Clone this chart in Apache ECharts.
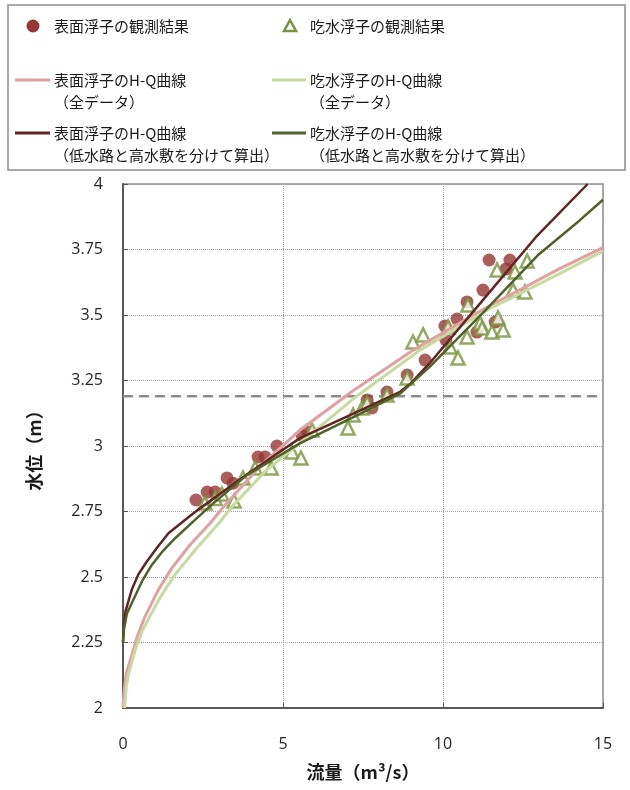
<!DOCTYPE html>
<html>
<head>
<meta charset="utf-8">
<script src="https://cdn.jsdelivr.net/npm/echarts@6/dist/echarts.min.js"></script>
<style>
  html, body { margin: 0; padding: 0; background: #fff; }
  #chart { width: 630px; height: 790px; }
</style>
</head>
<body>
<div id="chart"></div>
<script>
// Observed points: [discharge (m3/s), stage (m)]
const surfaceFloatObs = [
  [2.28, 2.794], [2.63, 2.824], [2.88, 2.824], [3.25, 2.878], [3.44, 2.858],
  [4.22, 2.958], [4.44, 2.958], [4.81, 3.0], [5.6, 3.04], [5.78, 3.053],
  [7.63, 3.176], [7.78, 3.145], [8.25, 3.206], [8.88, 3.271], [9.44, 3.328],
  [10.06, 3.458], [10.09, 3.405], [10.44, 3.485], [10.75, 3.55], [11.06, 3.435],
  [11.25, 3.595], [11.44, 3.71], [11.63, 3.473], [11.97, 3.676], [12.09, 3.71]
];
const rodFloatObs = [
  [2.56, 2.782], [2.88, 2.80], [3.09, 2.817], [3.47, 2.79], [3.75, 2.878],
  [4.13, 2.916], [4.63, 2.916], [5.28, 2.977], [5.56, 2.954], [5.91, 3.061],
  [7.03, 3.069], [7.19, 3.118], [7.47, 3.145], [7.63, 3.164], [8.25, 3.195],
  [8.88, 3.26], [9.06, 3.397], [9.38, 3.424], [10.16, 3.454], [10.22, 3.378],
  [10.47, 3.336], [10.75, 3.416], [10.78, 3.538], [11.16, 3.469], [11.22, 3.45],
  [11.53, 3.435], [11.72, 3.489], [11.88, 3.443], [11.69, 3.672], [12.25, 3.664],
  [12.63, 3.706], [12.19, 3.595], [12.56, 3.588]
];

// H-Q rating curves
const surfaceCurveAll = [
  [0, 2.0], [0.03, 2.06], [0.1, 2.13], [0.27, 2.2], [0.45, 2.275], [0.69, 2.35],
  [1.1, 2.45], [1.52, 2.533], [2.09, 2.622], [2.72, 2.705], [3.19, 2.775],
  [4.3, 2.925], [5.53, 3.061], [7.2, 3.212], [9.07, 3.366], [11.3, 3.525],
  [13.66, 3.678], [15, 3.757]
];
const rodCurveAll = [
  [0.05, 2.0], [0.1, 2.08], [0.17, 2.13], [0.38, 2.22], [0.6, 2.295], [0.84, 2.35],
  [1.2, 2.43], [1.63, 2.51], [2.3, 2.61], [3.03, 2.71], [3.4, 2.768], [4.5, 2.91],
  [5.84, 3.042], [7.3, 3.19], [9.28, 3.366], [11.4, 3.52], [13.66, 3.659], [15, 3.744]
];
const surfaceCurveSplit = [
  [0, 2.25], [0.02, 2.31], [0.08, 2.37], [0.27, 2.45], [0.48, 2.51], [0.74, 2.558],
  [1.05, 2.61], [1.42, 2.667], [2.2, 2.743], [2.62, 2.781], [4.0, 2.903],
  [5.53, 3.03], [7.2, 3.124], [8.66, 3.207], [9.0, 3.24], [9.59, 3.317],
  [11.2, 3.55], [12.9, 3.797], [14.52, 4.0]
];
const rodCurveSplit = [
  [0, 2.25], [0.03, 2.3], [0.12, 2.36], [0.32, 2.412], [0.6, 2.485], [0.9, 2.546],
  [1.25, 2.6], [1.63, 2.648], [2.3, 2.724], [2.82, 2.781], [3.87, 2.889],
  [5.53, 3.01], [7.2, 3.11], [8.66, 3.2], [9.59, 3.303], [11.3, 3.515],
  [12.99, 3.731], [14.26, 3.86], [15, 3.94]
];

// Stage separating the low-water channel from the flood plain
const boundaryStage = 3.19;

// Axis ranges
const xRange = [0, 15, 5];
const yRange = [2, 4, 0.25];

// Series names (legend text, one entry per line)
const names = {
  surfaceObs: ['表面浮子の観測結果'],
  rodObs: ['吃水浮子の観測結果'],
  surfaceAll: ['表面浮子のH-Q曲線', '（全データ）'],
  rodAll: ['吃水浮子のH-Q曲線', '（全データ）'],
  surfaceSplit: ['表面浮子のH-Q曲線', '（低水路と高水敷を分けて算出）'],
  rodSplit: ['吃水浮子のH-Q曲線', '（低水路と高水敷を分けて算出）']
};
const axisNames = { x: '流量（m³/s）', y: '水位（m）' };

const colors = {
  surfaceObs: '#953735',
  rodObs: '#77933C',
  surfaceAll: '#E2A0A0',
  rodAll: '#C6DBA0',
  surfaceSplit: '#632523',
  rodSplit: '#4F6228'
};

const jp = "'Noto Sans CJK JP', 'Noto Sans', sans-serif";
const num = "'Open Sans', 'Noto Sans', sans-serif";

function curve(key, data, width) {
  return {
    name: names[key].join(''),
    type: 'line',
    data: data,
    symbol: 'none',
    smooth: false,
    lineStyle: { color: colors[key], width: width, join: 'round' },
    z: 4
  };
}

// Legend drawn as graphic elements in two columns
const legendRows = [
  { left: 'surfaceObs', right: 'rodObs', y: 26, kind: 'marker' },
  { left: 'surfaceAll', right: 'rodAll', y: 80, kind: 'line' },
  { left: 'surfaceSplit', right: 'rodSplit', y: 133, kind: 'line' }
];
const legendCols = { left: { mark: 33, line: [15, 50], text: 54 }, right: { mark: 290, line: [272, 306], text: 310 } };

const graphics = [{
  type: 'rect',
  shape: { x: 8, y: 5, width: 617, height: 165 },
  style: { fill: 'none', stroke: '#8c8c8c', lineWidth: 1.5 },
  silent: true
}];
legendRows.forEach(function (row) {
  ['left', 'right'].forEach(function (side) {
    const key = row[side];
    const col = legendCols[side];
    if (row.kind === 'marker') {
      if (key === 'surfaceObs') {
        graphics.push({ type: 'circle', shape: { cx: col.mark, cy: row.y, r: 6.5 },
          style: { fill: colors.surfaceObs } });
      } else {
        graphics.push({ type: 'polygon',
          shape: { points: [[col.mark, row.y - 6], [col.mark + 6, row.y + 5], [col.mark - 6, row.y + 5]] },
          style: { fill: '#fff', stroke: colors.rodObs, lineWidth: 2.5 } });
      }
    } else {
      graphics.push({ type: 'line',
        shape: { x1: col.line[0], y1: row.y, x2: col.line[1], y2: row.y },
        style: { stroke: colors[key], lineWidth: 3 } });
    }
    names[key].forEach(function (t, i) {
      graphics.push({ type: 'text', x: col.text, y: row.y + i * 22,
        style: { text: t, fill: '#1a1a1a', font: '15px ' + jp, verticalAlign: 'middle', align: 'left' } });
    });
  });
});

const chart = echarts.init(document.getElementById('chart'));
chart.setOption({
  backgroundColor: '#fff',
  animation: false,
  grid: { left: 123, right: 27, top: 184, bottom: 82, show: true, borderColor: '#8c8c8c', borderWidth: 1.5 },
  xAxis: {
    type: 'value', min: xRange[0], max: xRange[1], interval: xRange[2],
    name: axisNames.x, nameLocation: 'middle', nameGap: 55,
    nameTextStyle: { fontFamily: jp, fontSize: 18, fontWeight: 'bold', color: '#1a1a1a' },
    axisLine: { lineStyle: { color: '#595959', width: 2 } },
    axisTick: { inside: true, length: 5, lineStyle: { color: '#595959' } },
    axisLabel: { margin: 28, fontSize: 16, fontFamily: num, color: '#262626' },
    splitLine: { show: true, lineStyle: { color: '#a0a0a0', type: 'dotted', width: 1 } }
  },
  yAxis: {
    type: 'value', min: yRange[0], max: yRange[1], interval: yRange[2],
    name: axisNames.y, nameLocation: 'middle', nameGap: 80, nameRotate: 90,
    nameTextStyle: { fontFamily: jp, fontSize: 18, fontWeight: 'bold', color: '#1a1a1a' },
    axisLine: { show: true, lineStyle: { color: '#595959', width: 2 } },
    axisTick: { show: true, inside: true, length: 5, lineStyle: { color: '#595959' } },
    axisLabel: { margin: 20, fontSize: 16, fontFamily: num, color: '#262626' },
    splitLine: { show: true, lineStyle: { color: '#a0a0a0', type: 'dotted', width: 1 } }
  },
  graphic: graphics,
  series: [
    {
      name: '境界水位',
      type: 'line',
      data: [[xRange[0], boundaryStage], [xRange[1], boundaryStage]],
      symbol: 'none',
      silent: true,
      lineStyle: { color: '#8c8c8c', width: 2.5, type: [10, 6] },
      z: 1
    },
    {
      name: names.surfaceObs.join(''),
      type: 'scatter',
      data: surfaceFloatObs,
      symbol: 'circle',
      symbolSize: 13,
      itemStyle: { color: colors.surfaceObs },
      z: 2
    },
    {
      name: names.rodObs.join(''),
      type: 'scatter',
      data: rodFloatObs,
      symbol: 'triangle',
      symbolSize: 13,
      itemStyle: { color: '#fff', borderColor: colors.rodObs, borderWidth: 2.5 },
      z: 3
    },
    curve('surfaceAll', surfaceCurveAll, 3),
    curve('rodAll', rodCurveAll, 3),
    curve('surfaceSplit', surfaceCurveSplit, 2.5),
    curve('rodSplit', rodCurveSplit, 2.5)
  ]
});
</script>
</body>
</html>
